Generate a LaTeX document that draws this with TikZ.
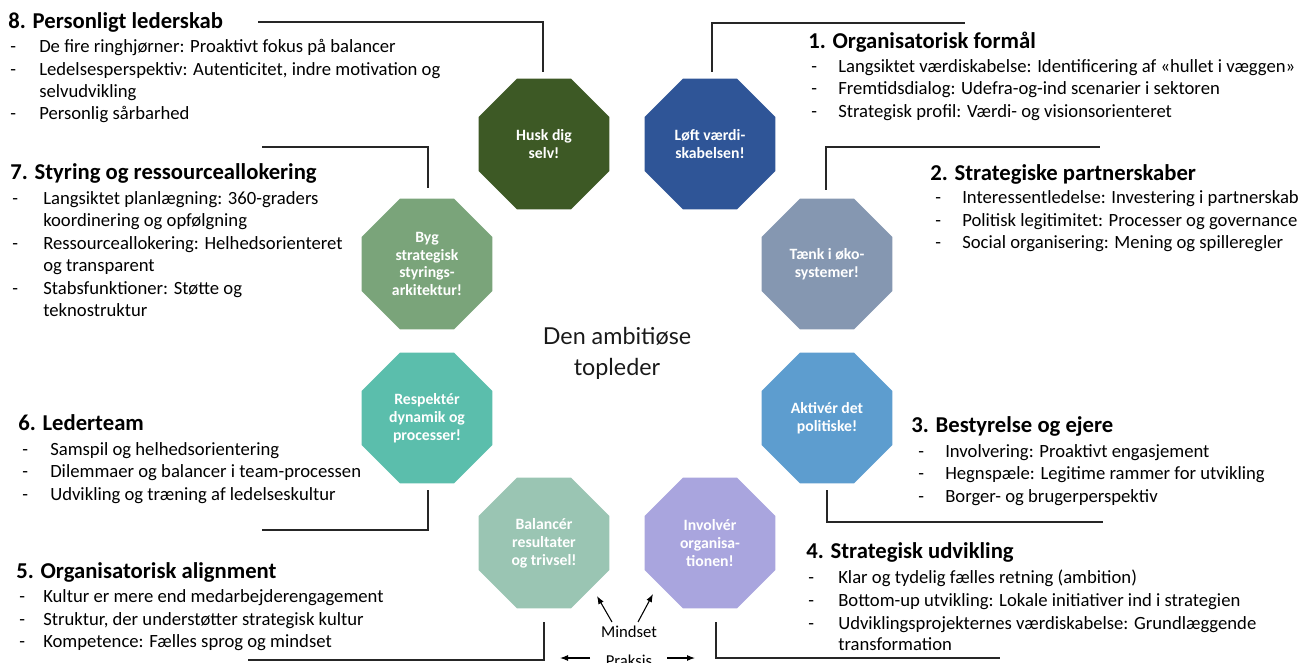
\documentclass[tikz,border=0pt]{standalone}
\usepackage{fontspec}
\setmainfont{Carlito}
\newfontfamily\titlefont{Lato}
\usetikzlibrary{shapes.geometric,arrows.meta}

% octagon fills
\definecolor{cHusk}{RGB}{61,89,37}
\definecolor{cLoeft}{RGB}{47,85,151}
\definecolor{cByg}{RGB}{122,164,122}
\definecolor{cTaenk}{RGB}{133,151,177}
\definecolor{cResp}{RGB}{91,190,172}
\definecolor{cAktiv}{RGB}{93,157,207}
\definecolor{cBal}{RGB}{154,197,179}
\definecolor{cInv}{RGB}{169,165,222}

\newcommand\octfont{\fontsize{11.8}{13.4}\selectfont\bfseries}
\newcommand\hdfont{\fontsize{17}{20}\selectfont\bfseries}
\newcommand\bodyfont{\fontsize{14}{16.8}\selectfont}

% one list line: dash and text
\newcommand\bul[5]{\node[itm] (#1d) at (#2,#4) {-}; \node[itm] (#1) at (#3,#4) {#5};}
% continuation line of a list entry
\newcommand\cont[4]{\node[itm] (#1) at (#2,#3) {#4};}

\tikzset{
  oct/.style={regular polygon, regular polygon sides=8, minimum size=106pt,
    inner sep=0pt, outer sep=0pt, text=white, font=\octfont, align=center},
  hd/.style={anchor=mid west, font=\hdfont, inner sep=0pt, yshift=-3pt},
  itm/.style={anchor=mid west, font=\bodyfont, inner sep=0pt, yshift=-3pt},
  conn/.style={draw=black!85, line width=0.9pt},
  arr/.style={-{Latex[length=6pt,width=4.5pt]}, line width=0.8pt}
}

\begin{document}
\begin{tikzpicture}[x=0.75pt,y=-0.75pt]
\useasboundingbox (0,0) rectangle (1315,663);

% the eight octagons
\node[oct, fill=cHusk]  (o8) at (544,144) {Husk dig\\selv!};
\node[oct, fill=cLoeft] (o1) at (710,144) {Løft værdi-\\skabelsen!};
\node[oct, fill=cByg]   (o7) at (427,264) {Byg\\strategisk\\styrings-\\arkitektur!};
\node[oct, fill=cTaenk] (o2) at (827,264) {Tænk i øko-\\systemer!};
\node[oct, fill=cResp]  (o6) at (427,418) {Respektér\\dynamik og\\processer!};
\node[oct, fill=cAktiv] (o3) at (827,418) {Aktivér det\\politiske!};
\node[oct, fill=cBal]   (o5) at (544,543) {Balancér\\resultater\\og trivsel!};
\node[oct, fill=cInv]   (o4) at (710,543) {Involvér\\organisa-\\tionen!};

% centre title
\node[font=\titlefont\fontsize{17.5}{23.3}\selectfont, align=center, text=black!90] (ctr) at (617,353)
  {Den ambitiøse\\topleder};

% 8
\node[hd] (h8) at (8,21) {8. Personligt lederskab};
\bul{l8a}{10}{39}{45}{De fire ringhjørner: Proaktivt fokus på balancer}
\bul{l8b}{10}{39}{68}{Ledelsesperspektiv: Autenticitet, indre motivation og}
\cont{l8c}{39}{90}{selvudvikling}
\bul{l8d}{10}{39}{112}{Personlig sårbarhed}

% 1
\node[hd] (h1) at (808,41) {1. Organisatorisk formål};
\bul{l1a}{811}{838}{65}{Langsiktet værdiskabelse: Identificering af «hullet i væggen»}
\bul{l1b}{811}{838}{87}{Fremtidsdialog: Udefra-og-ind scenarier i sektoren}
\bul{l1c}{811}{838}{110}{Strategisk profil: Værdi- og visionsorienteret}

% 7
\node[hd] (h7) at (10,172) {7. Styring og ressourceallokering};
\bul{l7a}{12}{43}{197}{Langsiktet planlægning: 360-graders}
\cont{l7b}{43}{219}{koordinering og opfølgning}
\bul{l7c}{12}{43}{242}{Ressourceallokering: Helhedsorienteret}
\cont{l7d}{43}{264}{og transparent}
\bul{l7e}{12}{43}{287}{Stabsfunktioner: Støtte og}
\cont{l7f}{43}{309}{teknostruktur}

% 2
\node[hd] (h2) at (930,173) {2. Strategiske partnerskaber};
\bul{l2a}{935}{962}{196}{Interessentledelse: Investering i partnerskab}
\bul{l2b}{935}{962}{219}{Politisk legitimitet: Processer og governance}
\bul{l2c}{935}{962}{241}{Social organisering: Mening og spilleregler}

% 6
\node[hd] (h6) at (18,423) {6. Lederteam};
\bul{l6a}{22}{50}{448}{Samspil og helhedsorientering}
\bul{l6b}{22}{50}{470}{Dilemmaer og balancer i team-processen}
\bul{l6c}{22}{50}{493}{Udvikling og træning af ledelseskultur}

% 3
\node[hd] (h3) at (911,425) {3. Bestyrelse og ejere};
\bul{l3a}{918}{945}{450}{Involvering: Proaktivt engasjement}
\bul{l3b}{918}{945}{472}{Hegnspæle: Legitime rammer for utvikling}
\bul{l3c}{918}{945}{495}{Borger- og brugerperspektiv}

% 5
\node[hd] (h5) at (16,571) {5. Organisatorisk alignment};
\bul{l5a}{19}{43}{595}{Kultur er mere end medarbejderengagement}
\bul{l5b}{19}{43}{618}{Struktur, der understøtter strategisk kultur}
\bul{l5c}{19}{43}{640}{Kompetence: Fælles sprog og mindset}

% 4
\node[hd] (h4) at (806,551) {4. Strategisk udvikling};
\bul{l4a}{808}{838}{576}{Klar og tydelig fælles retning (ambition)}
\bul{l4b}{808}{838}{599}{Bottom-up utvikling: Lokale initiativer ind i strategien}
\bul{l4c}{808}{838}{622}{Udviklingsprojekternes værdiskabelse: Grundlæggende}
\cont{l4d}{838}{643}{transformation}

% elbow connectors between octagons and text blocks
\coordinate (k8a) at (543,72);   \coordinate (k8b) at (258,22);
\coordinate (k1a) at (712,72);   \coordinate (k1b) at (965,23);
\coordinate (k7a) at (428,188);  \coordinate (k7b) at (262,147);
\coordinate (k2a) at (826,190);  \coordinate (k2b) at (1100,147);
\coordinate (k6a) at (428,490);  \coordinate (k6b) at (262,530);
\coordinate (k3a) at (827,490);  \coordinate (k3b) at (1103,522);
\coordinate (k5a) at (544,622);  \coordinate (k5b) at (248,660);
\coordinate (k4a) at (716,622);  \coordinate (k4b) at (1000,658);
\foreach \k in {8,1,7,2,6,3,5,4}
  \draw[conn] (k\k a) |- (k\k b);

% mindset and practice
\node[font=\fontsize{12.5}{15}\selectfont, inner sep=1pt] (mind) at (629,632) {Mindset};
\node[font=\fontsize{12.5}{15}\selectfont, inner sep=1pt] (prak) at (629,661) {Praksis};
\coordinate (mL) at (597,596);
\coordinate (mR) at (653,594);
\coordinate (pL) at (560,658);
\coordinate (pR) at (695,658);
\draw[arr] (612,622) -- (mL);
\draw[arr] (638,622) -- (mR);
\draw[arr] (590,658) -- (pL);
\draw[arr] (667,658) -- (pR);
\end{tikzpicture}
\end{document}
